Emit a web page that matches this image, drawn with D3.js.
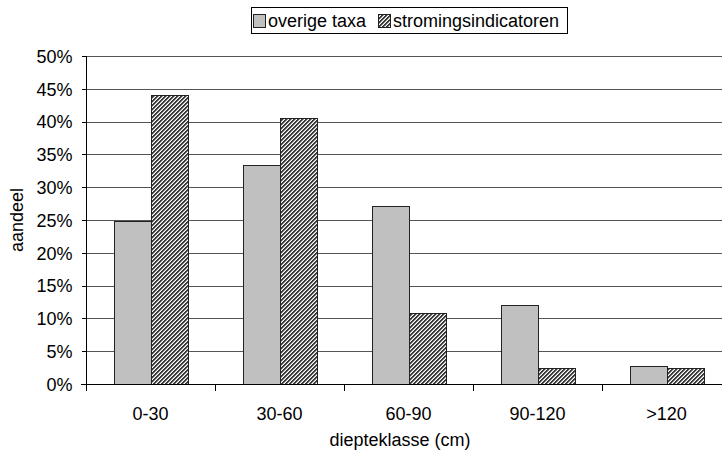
<!DOCTYPE html>
<meta charset="utf-8">
<style>
body { margin: 0; background: #fff; }
svg { display: block; }
text { font-family: "Liberation Sans", Arial, sans-serif; fill: #000; }
.grid line { stroke: #555; stroke-width: 1; shape-rendering: crispEdges; }
.axis path, .axis line { stroke: #000; shape-rendering: crispEdges; }
</style>
<svg width="722" height="456"></svg>
<script src="https://cdn.jsdelivr.net/npm/d3@7"></script>
<script>

// data
var categories = ["0-30", "30-60", "60-90", "90-120", ">120"];
var seriesNames = ["overige taxa", "stromingsindicatoren"];
var overige = [24.8, 33.4, 27.1, 12.0, 2.8];
var stroming = [44.0, 40.5, 10.8, 2.4, 2.4];
var yTicks = [0, 5, 10, 15, 20, 25, 30, 35, 40, 45, 50];

var svg = d3.select("svg");
var fs = "18px";

// fine diagonal hatch, built pixel by pixel
var defs = svg.append("defs");
var pat = defs.append("pattern")
    .attr("id", "hatch")
    .attr("patternUnits", "userSpaceOnUse")
    .attr("width", 4)
    .attr("height", 4);
pat.append("rect").attr("width", 4).attr("height", 4).attr("fill", "#fff");
var cells = [];
for (var px = 0; px < 4; px++) for (var py = 0; py < 4; py++) cells.push([px, py]);
pat.selectAll("rect.px")
  .data(cells.filter(function(d) { return (d[0] + d[1]) % 4 !== 3; }))
  .enter().append("rect")
    .attr("x", function(d) { return d[0]; })
    .attr("y", function(d) { return d[1]; })
    .attr("width", 1).attr("height", 1)
    .attr("fill", function(d) { return (d[0] + d[1]) % 4 === 2 ? "#aaa" : "#3a3a3a"; });

var pLeft = 86, pRight = 731, pTop = 56, pBottom = 384;

var x = d3.scaleBand().domain(categories).range([pLeft, pRight]);
var y = d3.scaleLinear().domain([0, 50]).range([pBottom, pTop]);
var barW = 37;

// gridlines
svg.append("g").attr("class", "grid")
  .selectAll("line")
  .data(yTicks.slice(1))
  .enter().append("line")
    .attr("x1", pLeft).attr("x2", pRight)
    .attr("y1", function(d) { return Math.round(y(d)) + 0.5; })
    .attr("y2", function(d) { return Math.round(y(d)) + 0.5; });

// bars
var colors = ["#c0c0c0", "url(#hatch)"];
[overige, stroming].forEach(function(vals, s) {
  svg.append("g")
    .selectAll("rect")
    .data(vals)
    .enter().append("rect")
      .attr("x", function(d, i) { return Math.round(x(categories[i]) + x.bandwidth() / 2 - barW + s * barW) + 0.5; })
      .attr("y", function(d) { return Math.round(y(d)) + 0.5; })
      .attr("width", barW)
      .attr("height", function(d) { return Math.round(y(0)) - Math.round(y(d)); })
      .attr("fill", colors[s])
      .attr("stroke", "#222")
      .attr("stroke-width", 1);
});

// y axis
var yAxis = svg.append("g").attr("class", "axis")
    .attr("transform", "translate(" + (pLeft + 0.5) + ",0)")
    .call(d3.axisLeft(y).tickValues(yTicks).tickSize(5).tickPadding(9)
      .tickFormat(function(d) { return d + "%"; }));
yAxis.select(".domain").attr("d", "M0," + pTop + "V" + pBottom);
yAxis.selectAll("text").style("font-size", fs).attr("dy", "0.35em")
    .style("font-family", "Liberation Sans, Arial, sans-serif");

// x axis
var xAxis = svg.append("g").attr("class", "axis")
    .attr("transform", "translate(0," + (pBottom + 0.5) + ")");
xAxis.append("line").attr("x1", pLeft - 5).attr("x2", pRight).attr("stroke", "#333");
xAxis.selectAll(".tk")
  .data(categories)
  .enter().append("line")
    .attr("x1", function(d) { return Math.round(x(d)) + 0.5; })
    .attr("x2", function(d) { return Math.round(x(d)) + 0.5; })
    .attr("y1", 0).attr("y2", 6);
xAxis.selectAll(".lbl")
  .data(categories)
  .enter().append("text")
    .attr("x", function(d) { return x(d) + x.bandwidth() / 2; })
    .attr("y", 35)
    .attr("text-anchor", "middle")
    .style("font-size", fs)
    .text(function(d) { return d; });

// axis titles
svg.append("text")
    .attr("x", 400).attr("y", 446)
    .attr("text-anchor", "middle")
    .style("font-size", fs)
    .text("diepteklasse (cm)");

svg.append("text")
    .attr("transform", "translate(23,220) rotate(-90)")
    .attr("text-anchor", "middle")
    .style("font-size", fs)
    .text("aandeel");

// legend
var lg = svg.append("g");
lg.append("rect")
    .attr("x", 251.5).attr("y", 7.5)
    .attr("width", 316).attr("height", 26)
    .attr("fill", "#fff").attr("stroke", "#000");
var lx = [253, 378];
seriesNames.forEach(function(n, i) {
  lg.append("rect")
    .attr("x", lx[i] + 0.5).attr("y", 14.5)
    .attr("width", 12).attr("height", 13)
    .attr("fill", colors[i]).attr("stroke", "#222");
  lg.append("text")
    .attr("x", lx[i] + 15).attr("y", 27)
    .style("font-size", fs)
    .text(n);
});

</script>
